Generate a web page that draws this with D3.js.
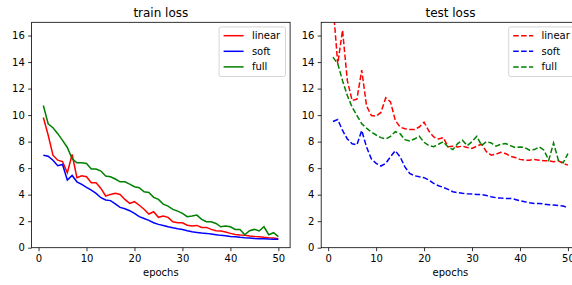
<!DOCTYPE html>
<html>
<head>
<meta charset="utf-8">
<script src="https://cdn.jsdelivr.net/npm/d3@7"></script>
<style>
  body { margin: 0; background: #fff; }
  text { font-family: "DejaVu Sans", sans-serif; fill: #000; }
</style>
</head>
<body>
<div id="chart"></div>
<script>
var epochs = d3.range(1, 51);

var trainLinear = [9.82, 8.5, 6.98, 6.6, 6.5, 5.65, 7.03, 5.28, 5.43, 5.35,
    4.9, 4.9, 4.47, 3.9, 4.02, 4.1, 4.02, 3.64, 3.34, 3.47,
    3.2, 2.9, 2.54, 2.71, 2.29, 2.39, 2.29, 1.96, 1.88, 1.88,
    1.7, 1.63, 1.68, 1.53, 1.53, 1.38, 1.28, 1.26, 1.18, 1.08,
    1.0, 0.95, 0.93, 0.88, 0.85, 0.83, 0.78, 0.75, 0.73, 0.68];
var trainSoft = [6.98, 6.9, 6.6, 6.18, 6.28, 5.1, 5.45, 4.97, 4.77, 4.55,
    4.35, 4.1, 3.77, 3.6, 3.55, 3.3, 3.04, 2.94, 2.79, 2.59,
    2.34, 2.2, 2.06, 1.88, 1.76, 1.68, 1.58, 1.5, 1.43, 1.38,
    1.28, 1.2, 1.15, 1.1, 1.08, 1.03, 0.98, 0.93, 0.9, 0.85,
    0.83, 0.78, 0.75, 0.73, 0.7, 0.68, 0.68, 0.65, 0.63, 0.63];
var trainFull = [10.72, 9.35, 9.05, 8.6, 8.1, 7.56, 6.7, 6.4, 6.4, 6.35,
    5.93, 5.93, 5.78, 5.4, 5.35, 5.18, 4.97, 4.97, 4.8, 4.6,
    4.52, 4.22, 4.17, 3.8, 3.64, 3.29, 3.14, 2.89, 2.76, 2.59,
    2.34, 2.39, 2.46, 2.14, 1.96, 1.96, 1.83, 1.58, 1.63, 1.58,
    1.38, 1.38, 0.98, 1.28, 1.38, 1.26, 1.58, 0.98, 1.13, 0.83];

var testLinear = [18.4, 13.87, 16.4, 12.6, 11.1, 11.2, 13.4, 10.7, 9.97, 9.92,
    10.2, 11.3, 11.0, 9.6, 9.1, 8.97, 8.92, 8.92, 9.1, 9.47,
    8.8, 8.35, 8.2, 8.3, 7.62, 7.66, 7.6, 7.66, 7.56, 7.49,
    7.66, 7.8, 7.24, 6.98, 7.06, 7.19, 7.1, 6.9, 6.8, 6.66,
    6.6, 6.6, 6.66, 6.6, 6.56, 6.56, 6.48, 6.56, 6.36, 6.23];
var testSoft = [9.52, 9.67, 8.84, 8.2, 7.84, 7.76, 8.84, 7.6, 6.7, 6.36,
    6.16, 6.36, 6.86, 7.31, 6.86, 6.1, 5.6, 5.43, 5.35, 5.28,
    5.1, 4.85, 4.67, 4.55, 4.4, 4.22, 4.15, 4.1, 4.07, 4.05,
    4.02, 4.0, 3.94, 3.84, 3.77, 3.74, 3.72, 3.72, 3.64, 3.54,
    3.47, 3.39, 3.34, 3.34, 3.29, 3.24, 3.22, 3.19, 3.14, 3.02];
var testFull = [14.37, 13.87, 12.6, 11.48, 10.6, 9.97, 9.35, 9.02, 8.72, 8.5,
    8.3, 8.2, 8.4, 8.75, 8.6, 8.15, 8.05, 8.2, 8.4, 7.95,
    7.7, 7.62, 7.8, 8.0, 7.6, 7.4, 7.85, 8.1, 7.7, 8.0,
    8.4, 7.7, 8.0, 7.9, 7.65, 7.8, 7.85, 7.7, 7.55, 7.6,
    7.55, 7.35, 7.4, 7.6, 7.35, 6.6, 7.9, 6.6, 6.4, 7.1];

var seriesNames = ["linear", "soft", "full"];
var colors = ["#ff0000", "#0000ff", "#008000"];
var yTicks = [0, 2, 4, 6, 8, 10, 12, 14, 16];
var xTicks = [0, 10, 20, 30, 40, 50];

var width = 572, height = 285;
var fs = 10;
var plotTop = 22.3, plotBottom = 247.7;

var svg = d3.select("#chart")
            .append("svg")
              .attr("width", width)
              .attr("height", height);

var panels = [
    {title: "train loss", left: 31.6, right: 290.1, data: [trainLinear, trainSoft, trainFull], dash: null, clip: "clipA"},
    {title: "test loss", left: 321.2, right: 579.7, data: [testLinear, testSoft, testFull], dash: "5.5,2.4", clip: "clipB"}
];

panels.forEach(function(p) {
    var x = d3.scaleLinear().domain([-1.45, 52.45]).range([p.left, p.right]);
    var y = d3.scaleLinear().domain([0, 17]).range([plotBottom, plotTop]);

    var g = svg.append("g");

    g.append("clipPath")
        .attr("id", p.clip)
      .append("rect")
        .attr("x", p.left)
        .attr("y", plotTop)
        .attr("width", p.right - p.left)
        .attr("height", plotBottom - plotTop);

    var line = d3.line()
        .x(function(d, i) { return x(epochs[i]); })
        .y(function(d) { return y(d); });

    g.append("g")
        .attr("clip-path", "url(#" + p.clip + ")")
        .selectAll("path")
        .data(p.data)
        .enter().append("path")
        .attr("d", line)
        .style("fill", "none")
        .style("stroke", function(d, i) { return colors[i]; })
        .style("stroke-width", 1.5)
        .style("stroke-dasharray", p.dash);

    // axes
    var xAxis = g.append("g")
        .attr("transform", "translate(0," + plotBottom + ")")
        .call(d3.axisBottom(x).tickValues(xTicks).tickSize(3.5).tickSizeOuter(0).tickPadding(3.3));
    var yAxis = g.append("g")
        .attr("transform", "translate(" + p.left + ",0)")
        .call(d3.axisLeft(y).tickValues(yTicks).tickSize(3.5).tickSizeOuter(0).tickPadding(3.3));
    [xAxis, yAxis].forEach(function(a) {
        a.select(".domain").remove();
        a.selectAll(".tick line").attr("stroke", "#000").attr("stroke-width", 0.8);
        a.selectAll(".tick text")
            .style("font-size", fs + "px")
            .style("font-family", "DejaVu Sans, sans-serif")
            .attr("fill", "#000");
    });

    // frame
    g.append("rect")
        .attr("x", p.left)
        .attr("y", plotTop)
        .attr("width", p.right - p.left)
        .attr("height", plotBottom - plotTop)
        .style("fill", "none")
        .style("stroke", "#000")
        .style("stroke-width", 0.8);

    g.append("text")
        .attr("x", (p.left + p.right) / 2)
        .attr("y", 17)
        .attr("text-anchor", "middle")
        .style("font-size", "12px")
        .text(p.title);

    g.append("text")
        .attr("x", (p.left + p.right) / 2)
        .attr("y", 276)
        .attr("text-anchor", "middle")
        .style("font-size", fs + "px")
        .text("epochs");

    // legend
    var lw = 66.4, lh = 49.6;
    var lx = p.right - 4.6 - lw, ly = plotTop + 4.6;
    var leg = g.append("g").attr("transform", "translate(" + lx + "," + ly + ")");
    leg.append("rect")
        .attr("width", lw)
        .attr("height", lh)
        .attr("rx", 2)
        .style("fill", "#fff")
        .style("fill-opacity", 0.8)
        .style("stroke", "#cccccc")
        .style("stroke-width", 0.8);
    var items = leg.selectAll("g.item")
        .data(seriesNames)
        .enter().append("g")
        .attr("class", "item")
        .attr("transform", function(d, i) { return "translate(0," + (8.8 + i * 15.6) + ")"; });
    items.append("line")
        .attr("x1", 4.5)
        .attr("x2", 24.5)
        .style("stroke", function(d, i) { return colors[i]; })
        .style("stroke-width", 1.5)
        .style("stroke-dasharray", p.dash);
    items.append("text")
        .attr("x", 32.8)
        .attr("dy", "0.35em")
        .style("font-size", fs + "px")
        .text(function(d) { return d; });
});
</script>
</body>
</html>
